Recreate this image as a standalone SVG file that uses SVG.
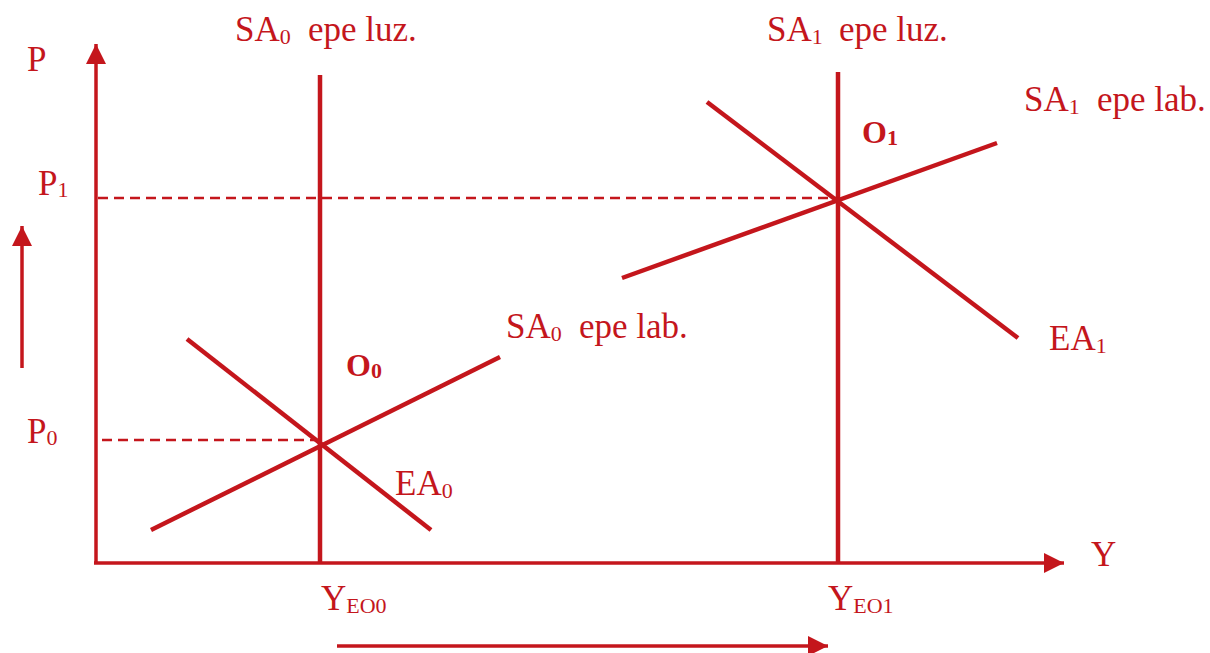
<svg xmlns="http://www.w3.org/2000/svg" width="1210" height="653" viewBox="0 0 1210 653">
<style>
.ln{stroke:#C4161C;fill:none}
.ax{stroke-width:3.5}
.cv{stroke-width:4.5}
.ds{stroke-width:2.5;stroke-dasharray:10 6}
text{font-family:"Liberation Serif","Times New Roman",serif;fill:#C4161C;font-size:35px}
.sub{font-size:22px}
.b{font-weight:bold;font-size:32px}
</style>
<defs>
<marker id="ah" markerUnits="userSpaceOnUse" markerWidth="22" markerHeight="22" refX="20" refY="10" orient="auto">
<path d="M0,0 L20,10 L0,20 Z" fill="#C4161C"/>
</marker>
</defs>
<rect width="1210" height="653" fill="#fff"/>
<g id="connectors">
<line id="y-axis" class="ln ax" x1="96" y1="564" x2="96" y2="44" marker-end="url(#ah)"/>
<line id="x-axis" class="ln ax" x1="94" y1="563" x2="1064" y2="563" marker-end="url(#ah)"/>
<line id="p1-dash" class="ln ds" x1="98" y1="198" x2="836" y2="198"/>
<line id="p0-dash" class="ln ds" x1="102" y1="440" x2="318" y2="440"/>
<line id="up-arrow" class="ln ax" x1="22" y1="368" x2="22" y2="226" marker-end="url(#ah)"/>
<line id="right-arrow" class="ln ax" x1="337" y1="646" x2="828" y2="646" marker-end="url(#ah)"/>
</g>
<g id="sa0-luz">
<line class="ln cv" x1="320" y1="75" x2="320" y2="563"/>
<text x="235" y="41">SA<tspan class="sub" dy="3">0</tspan><tspan dy="-3" x="308">epe luz.</tspan></text>
</g>
<g id="sa1-luz">
<line class="ln cv" x1="838" y1="72" x2="838" y2="563"/>
<text x="767" y="41">SA<tspan class="sub" dy="3">1</tspan><tspan dy="-3" x="839">epe luz.</tspan></text>
</g>
<g id="sa0-lab">
<line class="ln cv" x1="151" y1="530" x2="500" y2="357"/>
<text x="506" y="338">SA<tspan class="sub" dy="3">0</tspan><tspan dy="-3" x="579">epe lab.</tspan></text>
</g>
<g id="ea0">
<line class="ln cv" x1="187" y1="339" x2="431" y2="530"/>
<text x="395" y="495">EA<tspan class="sub" dy="3">0</tspan></text>
</g>
<g id="sa1-lab">
<line class="ln cv" x1="622" y1="278" x2="997" y2="143"/>
<text x="1024" y="111">SA<tspan class="sub" dy="3">1</tspan><tspan dy="-3" x="1097">epe lab.</tspan></text>
</g>
<g id="ea1">
<line class="ln cv" x1="707" y1="102" x2="1018" y2="338"/>
<text x="1049" y="350">EA<tspan class="sub" dy="3">1</tspan></text>
</g>
<g id="labels">
<text x="27" y="71">P</text>
<text x="1091" y="566">Y</text>
<text x="38" y="195">P<tspan class="sub" dy="2">1</tspan></text>
<text x="27" y="443">P<tspan class="sub" dy="2">0</tspan></text>
<text class="b" x="346" y="376">O<tspan class="sub" dy="2">0</tspan></text>
<text class="b" x="862" y="143">O<tspan class="sub" dy="2">1</tspan></text>
<text x="321" y="610">Y<tspan class="sub" dy="3">EO0</tspan></text>
<text x="828" y="610">Y<tspan class="sub" dy="3">EO1</tspan></text>
</g>
</svg>
